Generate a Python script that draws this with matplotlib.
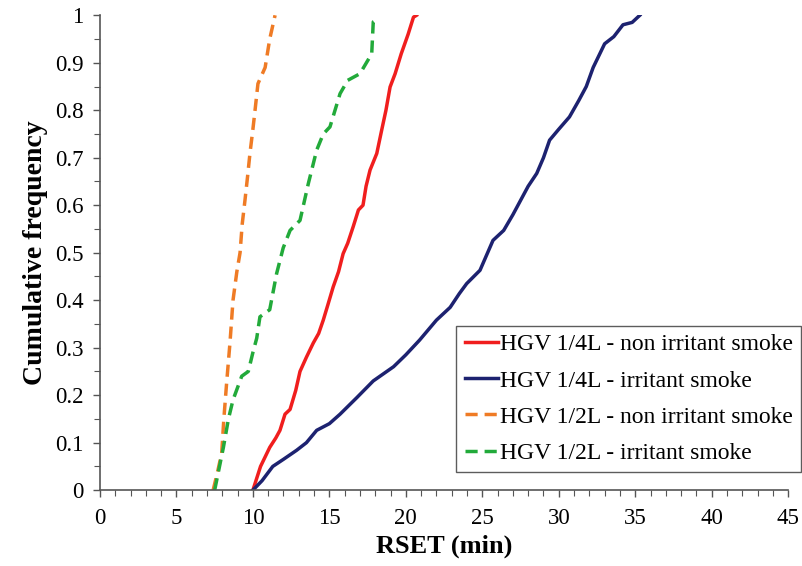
import matplotlib
matplotlib.use("Agg")
import matplotlib.pyplot as plt
from matplotlib.ticker import MultipleLocator

plt.rcParams["font.family"] = ["Liberation Serif", "DejaVu Serif"]

# RSET (min) vs cumulative frequency
red_x = [10.0, 10.5, 11.1, 11.5, 11.77, 12.1, 12.43, 12.8, 13.08, 13.5, 13.95, 14.3, 14.6,
         14.9, 15.25, 15.6, 15.9, 16.2, 16.56, 16.9, 17.2, 17.4, 17.66, 18.1, 18.42, 18.7,
         18.97, 19.3, 19.7, 20.15, 20.5, 20.7]
red_y = [0.0, 0.05, 0.09, 0.11, 0.126, 0.16, 0.17, 0.21, 0.25, 0.28, 0.31, 0.33, 0.358,
         0.39, 0.428, 0.46, 0.498, 0.52, 0.555, 0.59, 0.6, 0.64, 0.674, 0.709, 0.758, 0.8,
         0.849, 0.877, 0.919, 0.96, 0.996, 1.0]

blue_x = [10.0, 10.6, 11.3, 12.0, 12.86, 13.5, 14.17, 15.0, 15.7, 16.8, 17.87, 19.2, 20.0,
          20.9, 22.0, 22.9, 23.5, 23.98, 24.85, 25.7, 26.4, 27.0, 27.5, 28.0, 28.56, 29.0,
          29.4, 30.0, 30.7, 31.3, 31.8, 32.25, 33.0, 33.6, 34.2, 34.8, 35.3]
blue_y = [0.0, 0.02, 0.05, 0.065, 0.084, 0.1, 0.126, 0.14, 0.16, 0.195, 0.23, 0.26, 0.285,
          0.316, 0.358, 0.385, 0.414, 0.435, 0.463, 0.526, 0.547, 0.58, 0.61, 0.64, 0.667,
          0.7, 0.737, 0.76, 0.786, 0.82, 0.85, 0.89, 0.94, 0.955, 0.98, 0.985, 1.0]

orange_x = [7.4, 7.7, 7.96, 8.1, 8.28, 8.5, 8.7, 8.95, 9.16, 9.3, 9.48, 9.65, 9.81, 10.0,
            10.14, 10.33, 10.8, 11.1, 11.45]
orange_y = [0.0, 0.04, 0.078, 0.15, 0.225, 0.31, 0.4, 0.46, 0.5, 0.56, 0.61, 0.66, 0.71,
            0.76, 0.8, 0.856, 0.89, 0.95, 1.0]

green_x = [7.5, 8.07, 8.4, 8.7, 9.27, 9.7, 10.0, 10.25, 10.46, 11.1, 11.55, 11.98, 12.43,
           13.08, 13.62, 14.17, 14.6, 15.04, 15.7, 16.2, 17.0, 17.77, 17.87, 18.25]
green_y = [0.0, 0.09, 0.15, 0.19, 0.24, 0.25, 0.29, 0.32, 0.365, 0.38, 0.456, 0.51, 0.547,
           0.568, 0.645, 0.716, 0.75, 0.765, 0.835, 0.863, 0.877, 0.919, 0.986, 0.993]

yticks = [0, 0.1, 0.2, 0.3, 0.4, 0.5, 0.6, 0.7, 0.8, 0.9, 1.0]
ylabels = ["0", "0.1", "0.2", "0.3", "0.4", "0.5", "0.6", "0.7", "0.8", "0.9", "1"]

fig = plt.figure(figsize=(8.03, 5.66), dpi=100)
ax = fig.add_axes([0.1245, 0.134, 0.857, 0.839])

lw = 2.5
ax.plot(red_x, red_y, color="#f01e1e", lw=lw, label="HGV 1/4L - non irritant smoke")
ax.plot(blue_x, blue_y, color="#1d2270", lw=lw, label="HGV 1/4L - irritant smoke")
ax.plot(orange_x, orange_y, color="#ef7b25", lw=lw, dashes=(3.5, 2),
        label="HGV 1/2L - non irritant smoke")
ax.plot(green_x, green_y, color="#22aa3a", lw=lw, dashes=(3.5, 2),
        label="HGV 1/2L - irritant smoke")

ax.set_xlim(0, 45)
ax.set_ylim(0, 1)
ax.xaxis.set_major_locator(MultipleLocator(5))
ax.xaxis.set_minor_locator(MultipleLocator(1))
ax.set_yticks(yticks, ylabels)
ax.yaxis.set_minor_locator(MultipleLocator(0.05))

for s in ["top", "right"]:
    ax.spines[s].set_visible(False)
for s in ["left", "bottom"]:
    ax.spines[s].set_color("#555555")
    ax.spines[s].set_linewidth(1.2)
ax.tick_params(which="major", length=5, width=1.0, color="#555555", labelsize=16.5)
ax.tick_params(axis="x", which="major", pad=8)
ax.tick_params(axis="y", which="major", pad=7)
ax.tick_params(which="minor", length=4, width=0.8, color="#555555")

ax.set_xlabel("RSET (min)", fontsize=19, fontweight="bold", labelpad=4)
ax.set_ylabel("Cumulative frequency", fontsize=20, fontweight="bold", labelpad=5)

leg = ax.legend(loc="lower right", bbox_to_anchor=(1.019, 0.038), fontsize=17,
                frameon=True, fancybox=False, edgecolor="#333333", handlelength=1.4,
                handletextpad=0.1, borderpad=0.35, borderaxespad=0, labelspacing=0.62)
leg.get_frame().set_linewidth(1.0)

fig.savefig("out.png", dpi=100)
